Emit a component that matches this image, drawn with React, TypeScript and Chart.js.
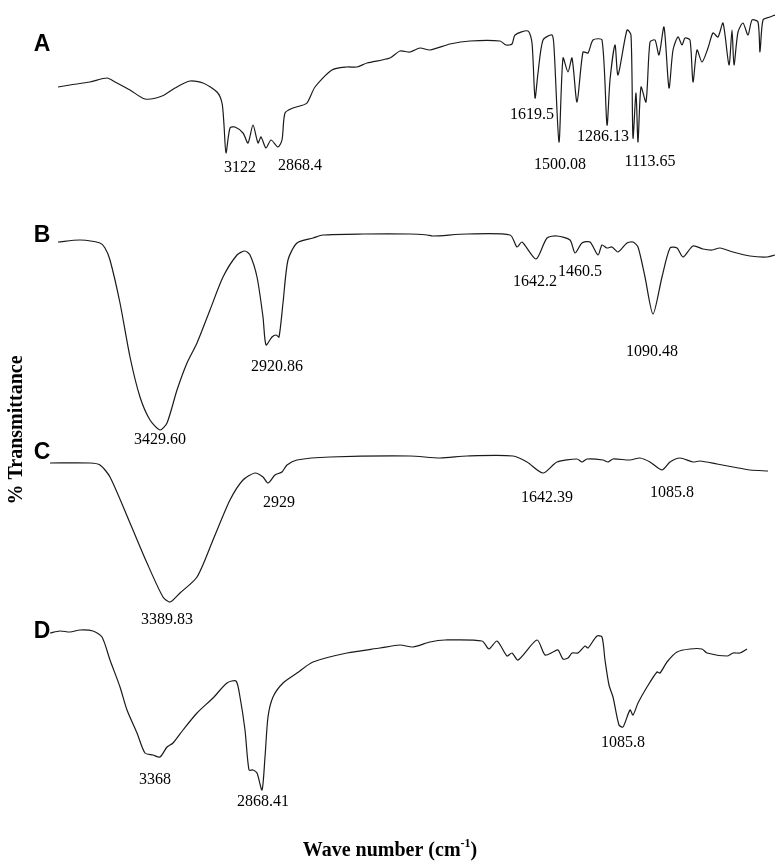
import React, { useEffect, useRef } from "react";
import { Chart, registerables } from "chart.js";

Chart.register(...registerables);

// Wavenumber (cm-1) and transmittance (a.u., local to each trace)
const waveA = [3960,3900,3800,3715,3675,3600,3525,3440,3375,3300,3235,3165,3140,3130,3120,3100,3075,3035,3010,2985,2960,2945,2920,2895,2860,2840,2825,2785,2750,2715,2675,2590,2515,2465,2415,2300,2250,2200,2150,2100,2000,1900,1750,1720,1690,1675,1610,1590,1575,1560,1535,1490,1480,1455,1435,1410,1390,1365,1335,1310,1285,1240,1215,1200,1175,1160,1115,1095,1085,1070,1060,1045,1020,1000,975,955,930,905,885,860,840,825,800,785,765,740,710,685,660,635,605,590,580,560,535,510,490,460,450,435,400,375];
const transA = [143,145,148,152,148,140,131,134,142,149,147,138,127,105,77,102,103,97,87,105,87,93,82,90,83,90,117,122,124,127,143,160,163,163,167,172,179,178,182,180,186,189,189,185,186,195,199,187,132,157,190,195,183,88,172,158,172,128,178,177,190,190,105,150,185,155,200,195,92,137,88,143,128,188,190,175,203,142,180,193,185,192,190,148,180,168,182,197,193,207,165,200,165,198,207,195,210,208,178,210,213,215];

const waveB = [3960,3850,3750,3725,3700,3650,3600,3550,3500,3450,3415,3365,3315,3265,3200,3135,3065,3025,3000,2965,2935,2920,2890,2870,2855,2835,2810,2765,2685,2635,2435,2200,2115,2085,1915,1700,1665,1640,1570,1515,1465,1400,1375,1340,1300,1260,1240,1215,1190,1160,1115,1085,1060,1025,985,940,900,865,835,785,735,690,650,585,500,415,375];
const transB = [208,210,207,202,190,147,93,53,30,20,27,60,87,107,140,173,195,199,195,173,133,105,113,115,113,147,190,207,212,215,216,216,215,214,216,215,203,208,191,212,214,210,197,207,208,195,205,202,203,198,207,208,203,173,136,173,202,202,193,204,201,200,202,198,194,193,195];

const waveC = [4000,3800,3750,3700,3600,3515,3435,3400,3350,3265,3185,3100,3035,2975,2935,2910,2875,2840,2815,2765,2600,2200,2050,1915,1685,1615,1535,1465,1365,1340,1315,1235,1210,1185,1100,1050,1000,940,900,850,785,750,665,585,500,410];
const transC = [167,167,165,153,107,67,33,28,37,53,90,130,150,157,153,147,155,158,165,170,173,174,172,174,174,168,157,168,171,168,171,170,168,171,170,172,168,160,168,172,168,169,166,163,160,159];

const waveD = [4000,3950,3900,3850,3785,3740,3700,3650,3615,3565,3525,3485,3450,3415,3385,3335,3265,3185,3115,3070,3050,3025,3005,2985,2965,2940,2925,2910,2885,2835,2765,2685,2515,2350,2250,2185,2100,2025,1840,1805,1765,1715,1690,1660,1565,1525,1485,1460,1435,1410,1390,1360,1325,1310,1265,1240,1225,1205,1185,1155,1135,1100,1085,1060,1015,965,950,915,865,800,740,715,615,585,550,515];
const transD = [197,199,198,200,199,193,170,143,120,97,77,75,73,83,87,100,117,132,147,149,133,100,60,60,57,40,73,113,133,147,157,168,177,182,185,183,188,190,189,181,189,174,177,170,190,175,178,180,171,172,177,177,184,182,194,193,170,145,133,105,103,120,115,127,143,158,157,168,178,181,181,177,174,177,177,181];

const traceOffsets = [600, 380, 200, 0];
const panelLetters = ["A", "B", "C", "D"];
const letterWave = [4040, 4040, 4040, 4040];
const letterTrans = [185, 214, 177, 198];

// Peak labels: text, wave position, local transmittance position, trace index
const peakTexts = ["3122","2868.4","1619.5","1500.08","1286.13","1113.65","3429.60","2920.86","1642.2","1460.5","1090.48","3389.83","2929","1642.39","1085.8","3368","2868.41","1085.8"];
const peakWave = [3050,2750,1590,1450,1235,1000,3450,2865,1575,1350,990,3415,2855,1515,890,3475,2935,1135];
const peakTrans = [62,64,115,65,93,68,10,83,168,178,98,10,127,132,137,50,28,87];
const peakTrace = [0,0,0,0,0,0,1,1,1,1,1,2,2,2,2,3,3,3];

const xTitle = "Wave number (cm";
const xTitleSup = "-1";
const yTitle = "% Transmittance";

function build(w: number[], t: number[], off: number) {
  return w.map((x, i) => ({ x, y: t[i] + off }));
}

export default function App() {
  const ref = useRef<HTMLCanvasElement>(null);
  useEffect(() => {
    const annot = {
      id: "annot",
      afterDraw(chart: any) {
        const ctx = chart.ctx;
        const xs = chart.scales.x;
        const ys = chart.scales.y;
        ctx.save();
        ctx.fillStyle = "#000";
        ctx.textAlign = "center";
        ctx.textBaseline = "middle";
        ctx.font = "bold 23px 'Liberation Sans', Arial, sans-serif";
        panelLetters.forEach((l, i) => {
          ctx.fillText(l, xs.getPixelForValue(letterWave[i]), ys.getPixelForValue(letterTrans[i] + traceOffsets[i]));
        });
        ctx.font = "16px 'Liberation Serif', 'Times New Roman', serif";
        peakTexts.forEach((s, i) => {
          ctx.fillText(s, xs.getPixelForValue(peakWave[i]), ys.getPixelForValue(peakTrans[i] + traceOffsets[peakTrace[i]]));
        });
        // axis titles
        const big = "bold 20px 'Liberation Serif', 'Times New Roman', serif";
        const small = "bold 12px 'Liberation Serif', 'Times New Roman', serif";
        ctx.font = big;
        const cx = (chart.chartArea.left + chart.chartArea.right) / 2 + (390 - 412.5);
        const w1 = ctx.measureText(xTitle).width;
        ctx.font = small;
        const w2 = ctx.measureText(xTitleSup).width;
        ctx.font = big;
        const w3 = ctx.measureText(")").width;
        const total = w1 + w2 + w3;
        let sx = cx - total / 2;
        const by = chart.height - 12;
        ctx.textAlign = "left";
        ctx.fillText(xTitle, sx, by);
        sx += w1;
        ctx.font = small;
        ctx.fillText(xTitleSup, sx, by - 7);
        sx += w2;
        ctx.font = big;
        ctx.fillText(")", sx, by);
        ctx.translate(17, 430);
        ctx.rotate(-Math.PI / 2);
        ctx.textAlign = "center";
        ctx.fillText(yTitle, 0, 0);
        ctx.restore();
      },
    };
    const mk = (w: number[], t: number[], off: number) => ({
      data: build(w, t, off),
      borderColor: "#1a1a1a",
      borderWidth: 1.2,
      pointRadius: 0,
      tension: 0.25,
      fill: false,
    });
    const chart = new Chart(ref.current!, {
      type: "line",
      data: {
        datasets: [
          mk(waveA, transA, traceOffsets[0]),
          mk(waveB, transB, traceOffsets[1]),
          mk(waveC, transC, traceOffsets[2]),
          mk(waveD, transD, traceOffsets[3]),
        ],
      },
      options: {
        animation: false,
        responsive: false,
        layout: { padding: { left: 50, right: 2, top: 0, bottom: 33 } },
        scales: {
          x: { type: "linear", min: 375, max: 4000, reverse: true, display: false },
          y: { min: 0, max: 830, display: false },
        },
        plugins: { legend: { display: false }, tooltip: { enabled: false } },
      },
      plugins: [annot],
    } as any);
    return () => chart.destroy();
  }, []);
  return (
    <div style={{ position: "fixed", left: 0, top: 0, width: 777, height: 863, background: "#fff" }}>
      <canvas ref={ref} width={777} height={863} />
    </div>
  );
}
